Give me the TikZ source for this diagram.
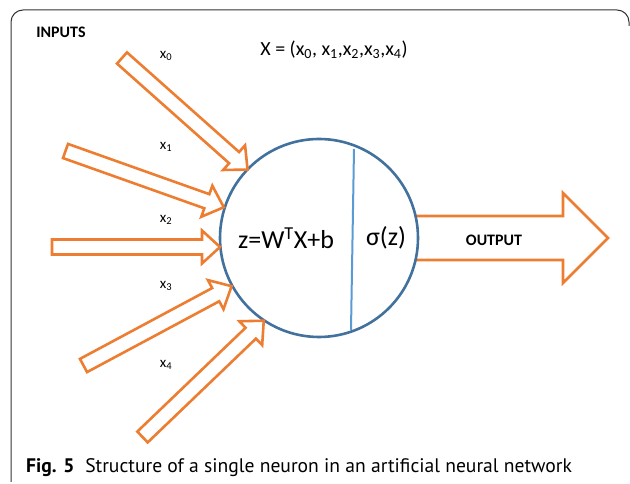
\documentclass[tikz,border=0pt]{standalone}
\usepackage{fontspec}
\setmainfont{Carlito}
\newfontfamily\capfont{PT Sans}
\definecolor{orng}{HTML}{ED7D31}
\definecolor{cblue}{HTML}{41719C}
\definecolor{lblue}{HTML}{5B9BD5}
\definecolor{framecol}{HTML}{333333}
\begin{document}
\begin{tikzpicture}[x=1pt,y=1pt,
  arrowline/.style={draw=orng,line width=2.6pt,line join=miter,fill=white},
  inarrow/.pic={\path[arrowline] (0,-7.5) -- (150,-7.5) -- (150,-16.5) -- (168,0) -- (150,16.5) -- (150,7.5) -- (0,7.5) -- cycle;},
  lbl/.style={font=\fontsize{15}{18}\selectfont,inner sep=0pt},
  bigtxt/.style={font=\fontsize{26}{30}\selectfont,inner sep=0pt},
  boldlbl/.style={font=\fontsize{16}{19}\selectfont\bfseries,inner sep=0pt}]
\useasboundingbox (0,0) rectangle (630,484);
% frame
\draw[framecol,line width=1pt,rounded corners=12pt] (11,2) -- (11,474) -- (629,474) -- (629,458);
% output arrow
\coordinate (otail) at (400,246);
\coordinate (otip) at (608,246);
\path[arrowline] (400,224) -- (563,224) -- (563,201) -- (otip) -- (563,291) -- (563,268) -- (400,268) -- cycle;
% neuron
\node[circle,draw=cblue,line width=2.6pt,fill=white,minimum size=198pt,inner sep=0pt] (neuron) at (319,246) {};
\coordinate (dtop) at (354,335);
\coordinate (dbot) at (351,154);
\draw[lblue,line width=2pt] (dtop) -- (dbot);
% input arrows
\pic[rotate=-41.63] at (122,426) {inarrow};
\pic[rotate=-19.57] at (65.5,333) {inarrow};
\pic at (52,237) {inarrow};
\pic[rotate=28.18] at (83.5,118.5) {inarrow};
\pic[rotate=43.8] at (142.5,47) {inarrow};
% texts
\node[boldlbl] (inputs) at (61,452) {INPUTS};
\node[font=\fontsize{20}{24}\selectfont,inner sep=0pt] (vec) at (334,434) {X = (x\textsubscript{0}, x\textsubscript{1},x\textsubscript{2},x\textsubscript{3},x\textsubscript{4})};
\node[lbl] (l0) at (166,428) {x\textsubscript{0}};
\node[lbl] (l1) at (166,337) {x\textsubscript{1}};
\node[lbl] (l2) at (166,264) {x\textsubscript{2}};
\node[lbl] (l3) at (166,198) {x\textsubscript{3}};
\node[lbl] (l4) at (166,119) {x\textsubscript{4}};
\node[bigtxt] (zeq) at (286,246) {z=W\textsuperscript{T}X+b};
\node[bigtxt] (sig) at (386,246) {σ(z)};
\node[boldlbl] (out) at (494,244) {OUTPUT};
\node[anchor=base west,inner sep=0pt,font=\capfont\fontsize{19.6}{22}\selectfont] (cap) at (26,11) {\textbf{Fig. 5}\hspace{0.55em}Structure of a single neuron in an artificial neural network};
\end{tikzpicture}
\end{document}
